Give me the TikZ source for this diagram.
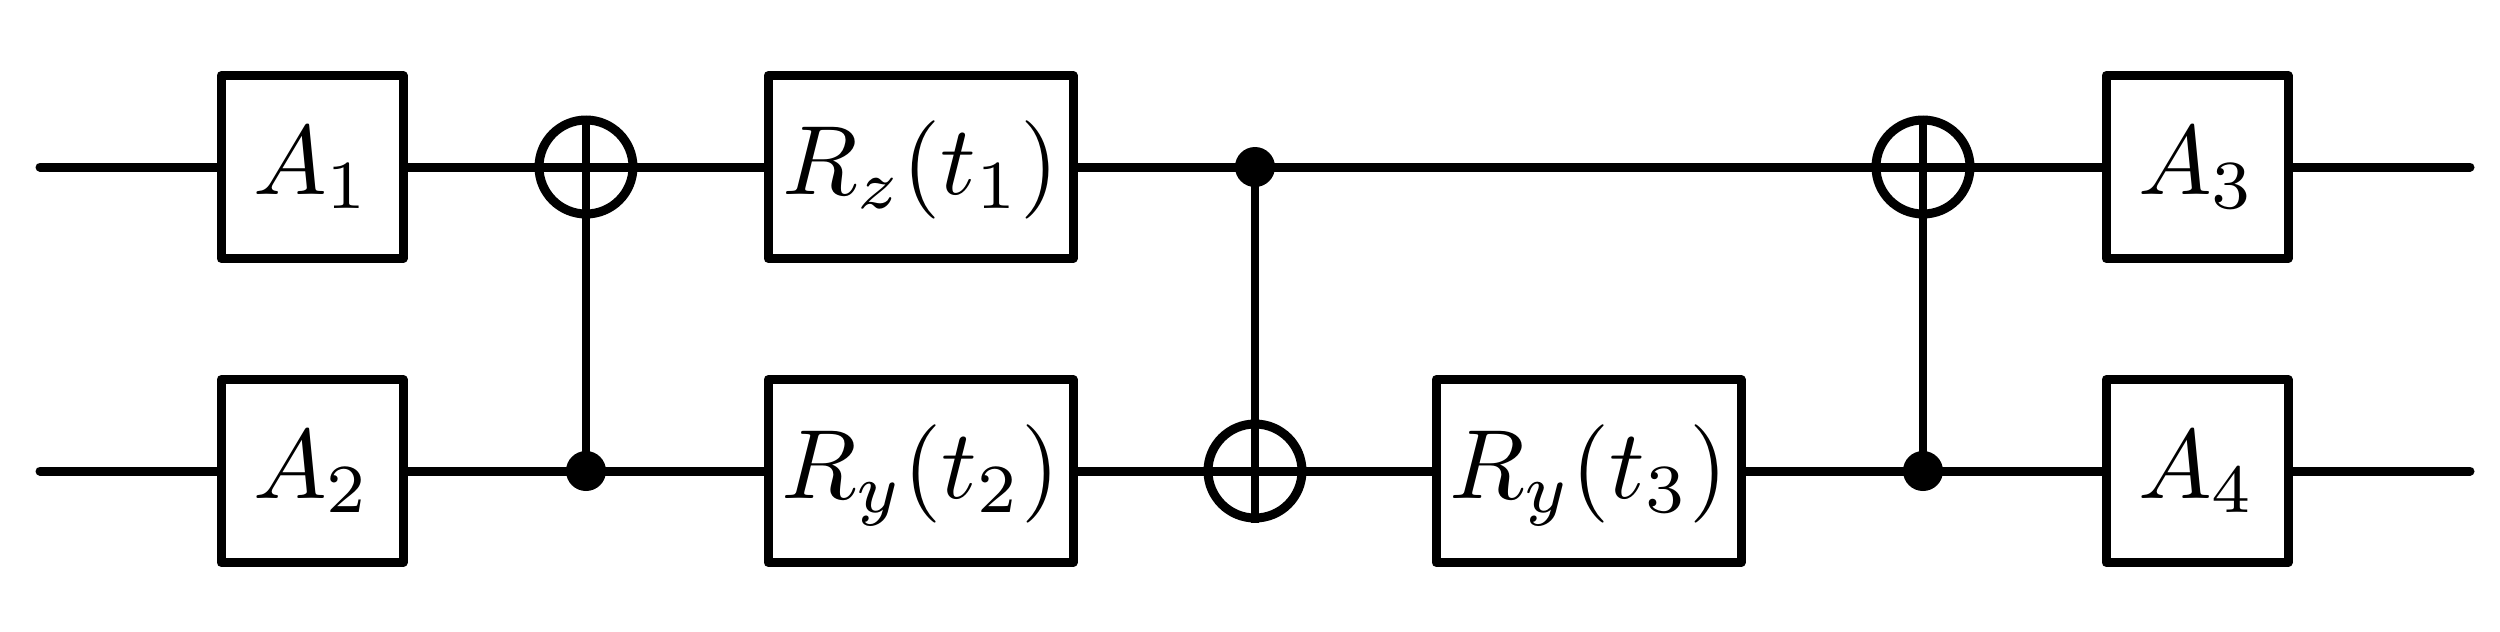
\documentclass[tikz,border=0pt]{standalone}
\def\pxu{0.2074pt}
\newcommand{\gatelabel}[1]{\scalebox{2.04}{$#1$}}
\tikzset{
 x=0.2074pt,y=-0.2074pt,
 wire/.style={line width=9*\pxu,line cap=round,line join=round},
 stem/.style={line width=8*\pxu,line cap=butt},
 gate/.style={draw,fill=white,rectangle,line width=9*\pxu,line join=round,inner sep=0pt,minimum height=183*\pxu,text height=60*\pxu,text depth=6*\pxu},
 small/.style={gate,minimum width=182*\pxu},
 big/.style={gate,minimum width=305*\pxu},
 target/.style={draw,circle,line width=9*\pxu,inner sep=0pt,minimum size=94*\pxu},
 ctrl/.style={fill=black,circle,inner sep=0pt,minimum size=40*\pxu},
}
\begin{document}
\begin{tikzpicture}
\useasboundingbox (0,0) rectangle (2500,631);
\coordinate (i1) at (40,167);
\coordinate (i2) at (40,471);
\coordinate (o1) at (2470,167);
\coordinate (o2) at (2470,471);
\node[small] (a1) at (312,167) {\gatelabel{A_1}};
\node[small] (a2) at (312,471) {\gatelabel{A_2}};
\node[target] (t1) at (586,167) {};
\node[ctrl] (c1) at (586,471) {};
\node[big] (r1) at (920.5,167) {\gatelabel{R_z(t_1)}};
\node[big] (r2) at (920.5,471) {\gatelabel{R_y(t_2)}};
\node[ctrl] (c2) at (1255,167) {};
\node[target] (t2) at (1255,471) {};
\node[big] (r3) at (1588.5,471) {\gatelabel{R_y(t_3)}};
\node[target] (t3) at (1923,167) {};
\node[ctrl] (c3) at (1923,471) {};
\node[small] (a3) at (2197,167) {\gatelabel{A_3}};
\node[small] (a4) at (2197,471) {\gatelabel{A_4}};
\begin{scope}[wire]
\draw (i1) -- (a1);
\draw (a1) -- (r1);
\draw (r1) -- (a3);
\draw (a3) -- (o1);
\draw (i2) -- (a2);
\draw (a2) -- (r2);
\draw (r2) -- (r3);
\draw (r3) -- (a4);
\draw (a4) -- (o2);
\end{scope}
\draw[stem] (t1.north) -- (c1.center);
\draw[stem] (c2.center) -- (t2.south);
\draw[stem] (t3.north) -- (c3.center);
\end{tikzpicture}
\end{document}
